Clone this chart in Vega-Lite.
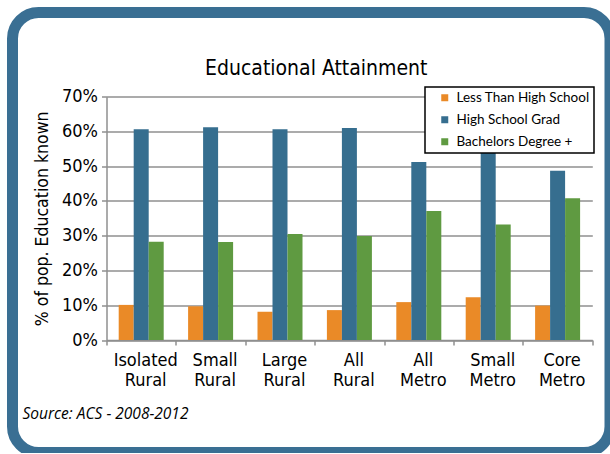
{
  "$schema": "https://vega.github.io/schema/vega-lite/v6.json",
  "usermeta": {"embedOptions": {"actions": false}},
  "autosize": {"type": "none"},
  "padding": {"left": 12.5, "top": 12.5, "right": 0, "bottom": 0},
  "width": 597.5,
  "height": 440,
  "background": "white",
  "title": {
    "text": "Educational Attainment",
    "font": "DejaVu Sans Condensed, Liberation Sans, sans-serif",
    "fontSize": 21,
    "fontWeight": "normal",
    "color": "black",
    "anchor": "middle",
    "frame": "group",
    "dx": 5,
    "offset": -66
  },
  "data": {
    "values": [
      {"region": "Isolated Rural", "level": "Less Than High School", "value": 0.101},
      {"region": "Isolated Rural", "level": "High School Grad", "value": 0.606},
      {"region": "Isolated Rural", "level": "Bachelors Degree +", "value": 0.283},
      {"region": "Small Rural", "level": "Less Than High School", "value": 0.097},
      {"region": "Small Rural", "level": "High School Grad", "value": 0.612},
      {"region": "Small Rural", "level": "Bachelors Degree +", "value": 0.282},
      {"region": "Large Rural", "level": "Less Than High School", "value": 0.081},
      {"region": "Large Rural", "level": "High School Grad", "value": 0.606},
      {"region": "Large Rural", "level": "Bachelors Degree +", "value": 0.305},
      {"region": "All Rural", "level": "Less Than High School", "value": 0.086},
      {"region": "All Rural", "level": "High School Grad", "value": 0.610},
      {"region": "All Rural", "level": "Bachelors Degree +", "value": 0.299},
      {"region": "All Metro", "level": "Less Than High School", "value": 0.109},
      {"region": "All Metro", "level": "High School Grad", "value": 0.512},
      {"region": "All Metro", "level": "Bachelors Degree +", "value": 0.371},
      {"region": "Small Metro", "level": "Less Than High School", "value": 0.123},
      {"region": "Small Metro", "level": "High School Grad", "value": 0.539},
      {"region": "Small Metro", "level": "Bachelors Degree +", "value": 0.332},
      {"region": "Core Metro", "level": "Less Than High School", "value": 0.099},
      {"region": "Core Metro", "level": "High School Grad", "value": 0.487},
      {"region": "Core Metro", "level": "Bachelors Degree +", "value": 0.408}
    ]
  },
  "mark": {"type": "bar"},
  "encoding": {
    "x": {
      "field": "region",
      "type": "nominal",
      "sort": ["Isolated Rural", "Small Rural", "Large Rural", "All Rural", "All Metro", "Small Metro", "Core Metro"],
      "scale": {"range": [94, 579.8], "paddingInner": 0, "paddingOuter": 0},
      "axis": {
        "title": "Source: ACS - 2008-2012",
        "titleFont": "Open Sans",
        "titleFontStyle": "italic",
        "titleFontWeight": "normal",
        "titleFontSize": 15.5,
        "titleColor": "black",
        "titleAlign": "left",
        "titleAnchor": "start",
        "titleBaseline": "alphabetic",
        "titleX": 9.5,
        "titleY": 78,
        "offset": -112.5,
        "labelAngle": 0,
        "labelExpr": "datum.value ? split(datum.value, ' ') : ''",
        "labelFont": "DejaVu Sans Condensed, Liberation Sans, sans-serif",
        "labelFontSize": 18,
        "labelLineHeight": 20,
        "labelColor": "black",
        "labelPadding": 6,
        "labelOffset": 4,
        "tickBand": "extent",
        "tickSize": 5,
        "tickColor": "#8f8f8f",
        "tickWidth": 1.5,
        "domainColor": "#8f8f8f",
        "domainWidth": 1.5,
        "grid": false
      }
    },
    "xOffset": {
      "field": "level",
      "type": "nominal",
      "sort": ["Less Than High School", "High School Grad", "Bachelors Degree +"],
      "scale": {"paddingInner": 0, "paddingOuter": 0.813}
    },
    "y": {
      "field": "value",
      "type": "quantitative",
      "scale": {"domain": [0, 0.7], "range": [327.5, 84.2], "nice": false},
      "axis": {
        "values": [0, 0.1, 0.2, 0.3, 0.4, 0.5, 0.6, 0.7],
        "format": ".0%",
        "offset": -94,
        "title": "% of pop. Education known",
        "titleFont": "DejaVu Sans Condensed, Liberation Sans, sans-serif",
        "titleFontSize": 17.5,
        "titleFontWeight": "normal",
        "titleColor": "black",
        "titlePadding": 10,
        "labelFont": "DejaVu Sans Condensed, Liberation Sans, sans-serif",
        "labelFontSize": 18,
        "labelColor": "black",
        "labelPadding": 4,
        "tickSize": 5,
        "tickColor": "#8f8f8f",
        "tickWidth": 1.5,
        "domainColor": "#8f8f8f",
        "domainWidth": 1.5,
        "grid": true,
        "gridColor": "#8f8f8f",
        "gridWidth": 1.5
      }
    },
    "color": {
      "field": "level",
      "type": "nominal",
      "scale": {
        "domain": ["Less Than High School", "High School Grad", "Bachelors Degree +"],
        "range": ["#EA8A27", "#366E8F", "#5F9A41"]
      },
      "legend": {
        "orient": "none",
        "legendX": 412.5,
        "legendY": 74.5,
        "title": null,
        "direction": "vertical",
        "fillColor": "white",
        "strokeColor": "black",
        "padding": 4,
        "symbolType": "square",
        "symbolSize": 49,
        "symbolStrokeWidth": 0,
        "symbolOffset": 9,
        "labelFont": "Lato",
        "labelFontSize": 13.5,
        "labelColor": "black",
        "labelOffset": 5,
        "rowPadding": 7,
        "labelLimit": 300
      }
    }
  },
  "config": {
    "view": {"stroke": "#3A6F93", "strokeWidth": 11, "cornerRadius": 26, "fill": "white"},
    "legend": {"strokeWidth": 1.5}
  }
}
